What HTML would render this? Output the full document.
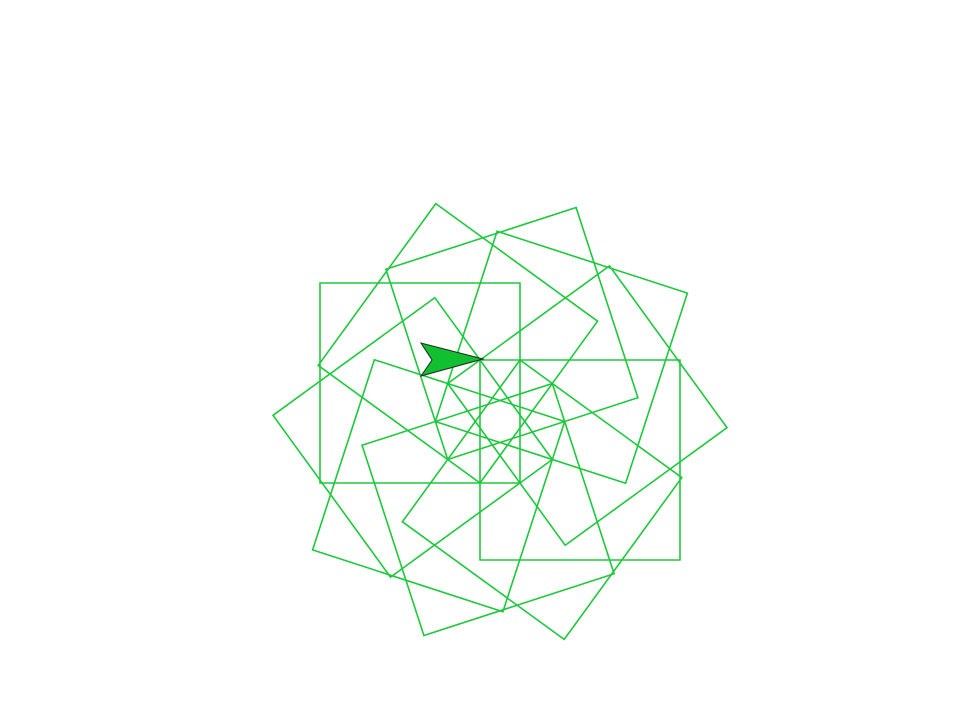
<!DOCTYPE html>
<html><head><meta charset="utf-8"><style>html,body{margin:0;padding:0;background:#fff;width:960px;height:720px;overflow:hidden}</style></head>
<body>
<svg id="chart" width="960" height="720" viewBox="0 0 960 720" xmlns="http://www.w3.org/2000/svg">
<g id="squares"></g>
<polygon points="483,359 421,343 432,360 421,376" fill="#10c030" stroke="#222" stroke-width="1"/>
</svg>
<script>
const squareIndex = [0,1,2,3,4,5,6,7,8,9];
const rotationDeg = [0,36,72,108,144,180,216,252,288,324];
const sideLength = [200,200,200,200,200,200,200,200,200,200];
const centerX = 500, centerY = 421.5, ringR = 88.8, startAngle = 25.7;
const g = document.getElementById('squares');
squareIndex.forEach(i => {
  const rot = rotationDeg[i];
  const a = (startAngle + rot) * Math.PI / 180;
  const cx = centerX + ringR * Math.cos(a), cy = centerY + ringR * Math.sin(a);
  const h = sideLength[i] / Math.SQRT2;
  const pts = [];
  for (let k = 0; k < 4; k++) {
    const b = (45 + rot + 90 * k) * Math.PI / 180;
    pts.push((cx + h * Math.cos(b)).toFixed(1) + ',' + (cy + h * Math.sin(b)).toFixed(1));
  }
  const p = document.createElementNS('http://www.w3.org/2000/svg', 'polygon');
  p.setAttribute('points', pts.join(' '));
  p.setAttribute('fill', 'none');
  p.setAttribute('stroke', '#1ec83c');
  p.setAttribute('stroke-width', '1.6');
  
  
  g.appendChild(p);
});
</script>
</body></html>
